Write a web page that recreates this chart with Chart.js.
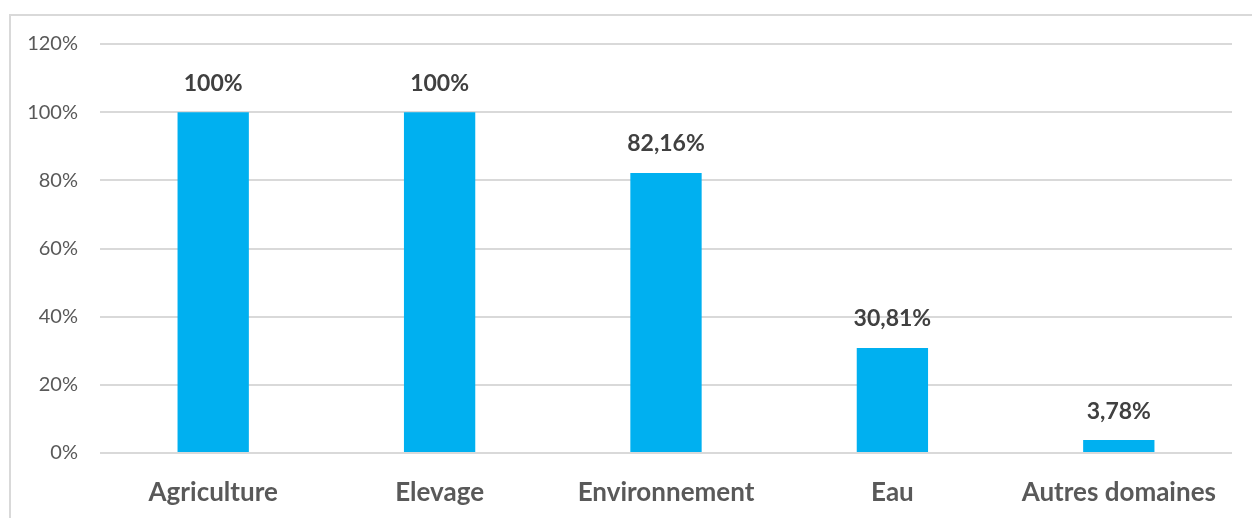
<!DOCTYPE html>
<html lang="fr">
<head>
<meta charset="utf-8">
<title>Taux par domaine</title>
<script src="https://cdn.jsdelivr.net/npm/chart.js@4/dist/chart.umd.min.js"></script>
<style>
  html, body { margin: 0; padding: 0; background: #fff; }
  #wrap { position: relative; width: 1252px; height: 518px; overflow: hidden; }
  #frame {
    position: absolute; left: 9px; top: 14px; width: 1300px; height: 600px;
    border-top: 2px solid #d9d9d9; border-left: 2px solid #d9d9d9;
  }
  #chart { position: absolute; left: 0; top: 0; }
</style>
</head>
<body>
<div id="wrap">
  <div id="frame"></div>
  <canvas id="chart" width="1252" height="518"></canvas>
</div>
<script>
  const domaines = ['Agriculture', 'Elevage', 'Environnement', 'Eau', 'Autres domaines'];
  const taux = [100, 100, 82.16, 30.81, 3.78];
  const yTicks = [0, 20, 40, 60, 80, 100, 120];

  const textGray = '#595959';
  const labelFont = 'Lato, "Open Sans", sans-serif';

  // value labels above each bar, French decimal comma
  const valueLabels = {
    id: 'valueLabels',
    afterDatasetsDraw(chart) {
      const ctx = chart.ctx;
      const meta = chart.getDatasetMeta(0);
      ctx.save();
      ctx.font = 'bold 23px ' + labelFont;
      ctx.fillStyle = '#404040';
      ctx.textAlign = 'center';
      ctx.textBaseline = 'middle';
      meta.data.forEach((bar, i) => {
        const txt = String(taux[i]).replace('.', ',') + '%';
        ctx.fillText(txt, bar.x, bar.y - 29);
      });
      ctx.restore();
    }
  };

  const ctx = document.getElementById('chart').getContext('2d');
  new Chart(ctx, {
    type: 'bar',
    data: {
      labels: domaines,
      datasets: [{
        data: taux,
        backgroundColor: '#00b0f0',
        borderWidth: 0,
        categoryPercentage: 1,
        barPercentage: 0.315
      }]
    },
    options: {
      responsive: false,
      animation: false,
      layout: { padding: { left: 0, right: 20, top: 44, bottom: 0 } },
      plugins: { legend: { display: false }, tooltip: { enabled: false } },
      scales: {
        x: {
          grid: { display: false, drawTicks: false },
          border: { display: false },
          ticks: {
            color: textGray,
            font: { family: labelFont, size: 26, weight: 'bold' },
            padding: 24,
            maxRotation: 0
          },
          afterFit(axis) { axis.height = 65; }
        },
        y: {
          min: 0,
          max: 120,
          afterBuildTicks(axis) { axis.ticks = yTicks.map(v => ({ value: v })); },
          grid: { color: '#d9d9d9', lineWidth: 2, drawTicks: false },
          border: { display: false },
          ticks: {
            color: textGray,
            font: { family: labelFont, size: 20 },
            padding: 22,
            callback: v => v + '%'
          },
          afterFit(axis) { axis.width = 100; }
        }
      }
    },
    plugins: [valueLabels]
  });
</script>
</body>
</html>
